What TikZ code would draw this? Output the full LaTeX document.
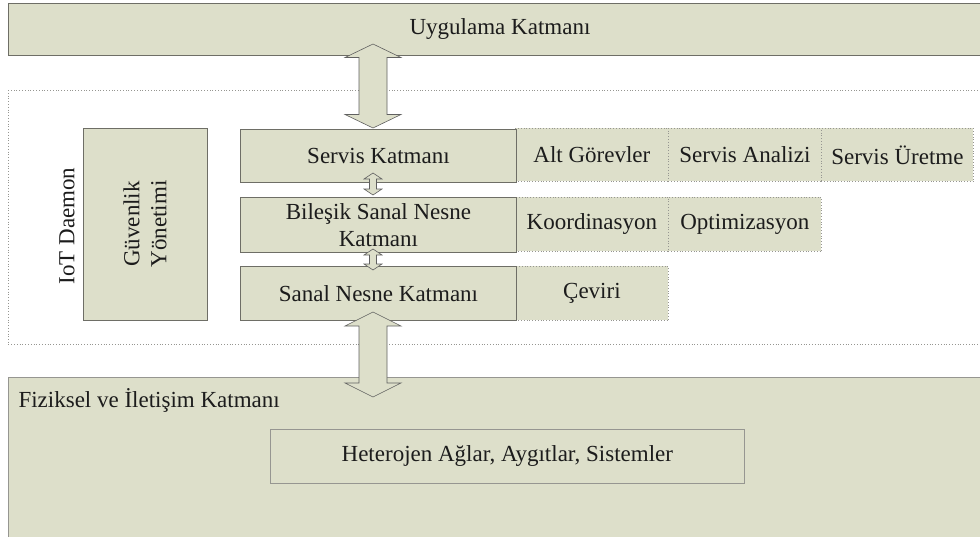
\documentclass[tikz,border=0pt]{standalone}
\usepackage{fontspec}
\setmainfont{Liberation Serif}
\usetikzlibrary{calc}
\definecolor{layerfill}{RGB}{221,223,202}
\definecolor{layeredge}{RGB}{110,110,102}
\definecolor{subedge}{RGB}{150,150,145}
\definecolor{inktext}{RGB}{28,28,28}
\tikzset{
  txt/.style={text=inktext, font=\fontsize{23}{27}\selectfont, align=center},
  lyr/.style={txt, draw=layeredge, fill=layerfill, line width=0.9pt, inner sep=0pt, anchor=north west},
  sublyr/.style={txt, draw=subedge, dotted, line width=0.8pt, fill=layerfill, inner sep=0pt, anchor=north west},
  daemonbox/.style={draw=subedge, dotted, line width=0.8pt, anchor=north west, inner sep=0pt},
  fatarrow/.style={fill=layerfill, draw=gray!75!black, line width=0.6pt}
}
% vertical double-headed block arrow between two named points
% #1 top point, #2 bottom point, #3 shaft half width, #4 head half width, #5 head length
\newcommand{\blockarrow}[5]{%
  \path[fatarrow] let \p1=(#1), \p2=(#2) in
    (\x1,\y1) -- (\x1+#4,\y1-#5) -- (\x1+#3,\y1-#5) -- (\x1+#3,\y2+#5) --
    (\x1+#4,\y2+#5) -- (\x1,\y2) -- (\x1-#4,\y2+#5) -- (\x1-#3,\y2+#5) --
    (\x1-#3,\y1-#5) -- (\x1-#4,\y1-#5) -- cycle;}
\begin{document}
\begin{tikzpicture}[x=1pt,y=-1pt]
\useasboundingbox (0,0) rectangle (980,536);

% application layer
\node[lyr, minimum width=982pt, minimum height=52pt] (app) at (8,3) {};
\node[txt] (apptext) at (500,29) {Uygulama Katmanı};

% IoT daemon frame
\node[daemonbox, minimum width=982pt, minimum height=254pt] (daemon) at (8,90) {};
\node[txt, rotate=90] (daemonlabel) at (67,226) {IoT Daemon};

% security management
\node[lyr, minimum width=124pt, minimum height=192pt] (guv) at (83,128) {};
\node[txt, rotate=90] (guvtext) at (145,224) {Güvenlik\\Yönetimi};

% sub-functions of each layer
\node[sublyr, minimum width=153pt, minimum height=53pt] (alt) at (515,128) {Alt Görevler};
\node[sublyr, minimum width=153pt, minimum height=53pt] (analiz) at (668,128) {Servis Analizi};
\node[sublyr, minimum width=152pt, minimum height=53pt] (uret) at (821,128) {Servis Üretme};
\node[sublyr, minimum width=153pt, minimum height=54pt] (koord) at (515,197) {Koordinasyon};
\node[sublyr, minimum width=153pt, minimum height=54pt] (optim) at (668,197) {Optimizasyon};
\node[sublyr, minimum width=153pt, minimum height=54pt] (ceviri) at (515,266) {Çeviri};

% daemon layers
\node[lyr, minimum width=276pt, minimum height=53pt] (servis) at (240,129) {Servis Katmanı};
\node[lyr, minimum width=276pt, minimum height=55pt] (bilesik) at (240,197) {Bileşik Sanal Nesne\\Katmanı};
\node[lyr, minimum width=276pt, minimum height=54pt] (sanal) at (240,266) {Sanal Nesne Katmanı};

% physical and communication layer
\node[lyr, draw=subedge, minimum width=982pt, minimum height=170pt] (fiz) at (8,377) {};
\node[txt, anchor=base west] (fiztext) at (15,407) {Fiziksel ve İletişim Katmanı};
\node[lyr, draw=subedge, line width=0.7pt, minimum width=474pt, minimum height=54pt] (het) at (270,429) {Heterojen Ağlar, Aygıtlar, Sistemler};

% arrow end points
\coordinate (a1t) at (373,44);
\coordinate (a1b) at (373,128);
\coordinate (a2t) at (373,173);
\coordinate (a2b) at (373,195);
\coordinate (a3t) at (373,249);
\coordinate (a3b) at (373,270);
\coordinate (a4t) at (373,312);
\coordinate (a4b) at (373,397);

\blockarrow{a1t}{a1b}{14pt}{28pt}{13.5pt}
\blockarrow{a2t}{a2b}{3.5pt}{9pt}{6pt}
\blockarrow{a3t}{a3b}{3.5pt}{9pt}{6pt}
\blockarrow{a4t}{a4b}{14pt}{28pt}{14pt}
\end{tikzpicture}
\end{document}
